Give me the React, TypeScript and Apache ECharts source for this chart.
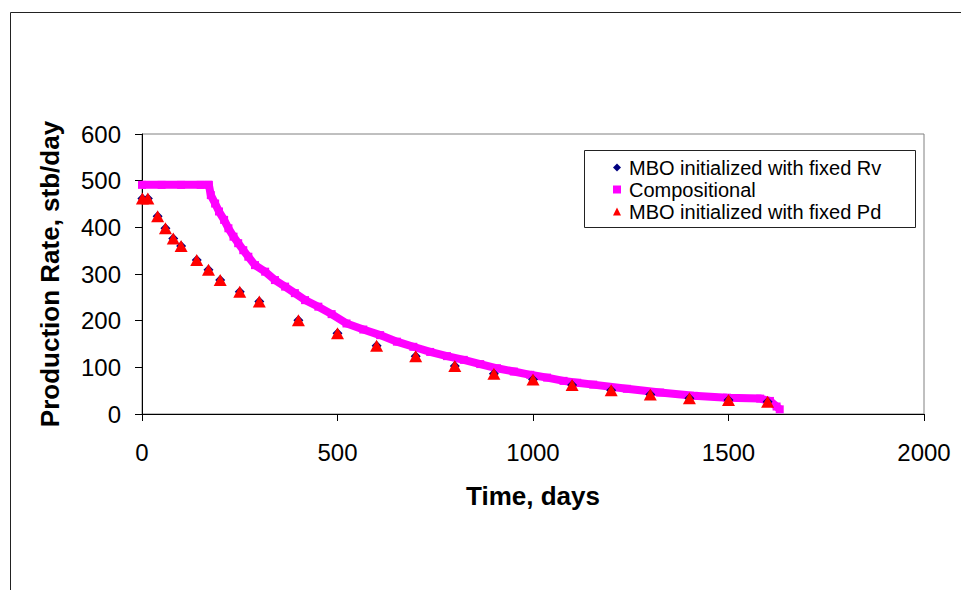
import React, { useEffect, useRef } from "react";
import * as echarts from "echarts";

// MBO simulations (both initializations give nearly identical rates)
const mboTime = [1, 15, 40, 60, 80, 100, 140, 170, 200, 250, 300, 400, 500, 600, 700, 800, 900, 1000, 1100, 1200, 1300, 1400, 1500, 1600];
const mboRvRate = [462, 462, 424, 398, 376, 360, 330, 309, 287, 262, 241, 201, 173, 146, 124, 103, 86, 74, 62, 51, 42, 34, 30, 26];
const mboPdRate = [462, 462, 424, 398, 376, 360, 330, 309, 287, 262, 241, 201, 173, 146, 124, 103, 86, 74, 62, 51, 42, 34, 30, 26];

// Compositional simulation
const compTime = [0, 50, 100, 150, 171, 176, 187, 197, 210, 221, 234, 246, 259, 272, 289, 315, 340, 366, 391, 417, 451, 485, 523, 566, 609, 652, 694, 737, 780, 823, 865, 908, 951, 993, 1036, 1078, 1113, 1154, 1240, 1325, 1411, 1496, 1581, 1606, 1623, 1631];
const compRate = [491, 491, 491, 491, 491, 469, 451, 434, 416, 398, 380, 366, 351, 337, 319, 305, 287, 273, 259, 244, 230, 214, 194, 181, 169, 155, 144, 133, 124, 116, 107, 98, 91, 84, 78, 71, 67, 63, 54, 46, 39, 35, 33, 28, 16, 10];

const seriesNames = ["MBO initialized with fixed Rv", "Compositional", "MBO initialized with fixed Pd"];
const xTicks = { min: 0, max: 2000, interval: 500 };
const yTicks = { min: 0, max: 600, interval: 100 };

const FONT = "Arial, 'Liberation Sans', sans-serif";

export default function App() {
  const ref = useRef<HTMLDivElement>(null);
  useEffect(() => {
    if (!ref.current) return;
    const chart = echarts.init(ref.current, undefined, { renderer: "svg" });
    const zip = (xs: number[], ys: number[]) => xs.map((x, i) => [x, ys[i]]);
    chart.setOption({
      animation: false,
      backgroundColor: "#ffffff",
      textStyle: { fontFamily: FONT },
      graphic: [
        {
          type: "rect",
          left: 8,
          top: 10,
          shape: { x: 0.5, y: 0.5, width: 970, height: 600 },
          style: { fill: "none", stroke: "#222", lineWidth: 1 },
          silent: true,
          z: -10,
        },
        {
          type: "rect",
          shape: { x: 584.5, y: 150.5, width: 331, height: 77 },
          style: { fill: "#fff", stroke: "#222", lineWidth: 1 },
          silent: true,
          z: 5,
        },
      ],
      grid: {
        left: 142,
        top: 134,
        width: 782,
        height: 280,
        show: true,
        borderColor: "#808080",
        borderWidth: 1,
        backgroundColor: "transparent",
        containLabel: false,
        outerBoundsMode: "none",
      },
      legend: {
        orient: "vertical",
        left: 613,
        top: 157,
        padding: 0,
        itemGap: 1,
        itemWidth: 8,
        itemHeight: 8,
        z: 10,
        textStyle: { fontFamily: FONT, fontSize: 20, color: "#000", lineHeight: 21, padding: [0, 0, 0, 3] },
        data: [
          { name: seriesNames[0], icon: "diamond" },
          { name: seriesNames[1], icon: "rect" },
          { name: seriesNames[2], icon: "triangle" },
        ],
      },
      xAxis: {
        type: "value",
        min: xTicks.min,
        max: xTicks.max,
        interval: xTicks.interval,
        name: "Time, days",
        nameLocation: "middle",
        nameGap: 69,
        nameTextStyle: { fontFamily: FONT, fontSize: 26, fontWeight: "bold", color: "#000" },
        axisLine: { show: true, onZero: false, lineStyle: { color: "#000", width: 1 } },
        axisTick: { show: true, inside: false, length: 7, lineStyle: { color: "#000" } },
        axisLabel: { fontFamily: FONT, fontSize: 24, color: "#000", margin: 26, formatter: (v: number) => String(v) },
        splitLine: { show: false },
      },
      yAxis: {
        type: "value",
        min: yTicks.min,
        max: yTicks.max,
        interval: yTicks.interval,
        name: "Production Rate, stb/day",
        nameLocation: "middle",
        nameGap: 79,
        nameTextStyle: { fontFamily: FONT, fontSize: 26, fontWeight: "bold", color: "#000" },
        axisLine: { show: true, onZero: false, lineStyle: { color: "#000", width: 1 } },
        axisTick: { show: true, inside: false, length: 7, lineStyle: { color: "#000" } },
        axisLabel: { fontFamily: FONT, fontSize: 24, color: "#000", margin: 21, formatter: (v: number) => String(v) },
        splitLine: { show: false },
      },
      series: [
        {
          name: seriesNames[1],
          type: "line",
          data: zip(compTime, compRate),
          color: "#FF00FF",
          symbol: "rect",
          symbolSize: 8,
          showAllSymbol: true,
          lineStyle: { color: "#FF00FF", width: 8, join: "miter" },
          itemStyle: { color: "#FF00FF", opacity: 1 },
          z: 2,
        },
        {
          name: seriesNames[0],
          type: "scatter",
          data: zip(mboTime, mboRvRate),
          symbol: "diamond",
          symbolSize: 10,
          itemStyle: { color: "#000080", opacity: 1 },
          z: 3,
        },
        {
          name: seriesNames[2],
          type: "scatter",
          data: zip(mboTime, mboPdRate),
          symbol: "triangle",
          symbolSize: [13, 12],
          itemStyle: { color: "#FF0000", opacity: 1 },
          z: 4,
        },
      ],
    });
    return () => chart.dispose();
  }, []);
  return (
    <div
      ref={ref}
      style={{ position: "fixed", left: 0, top: 0, width: 961, height: 590, background: "#fff" }}
    />
  );
}
